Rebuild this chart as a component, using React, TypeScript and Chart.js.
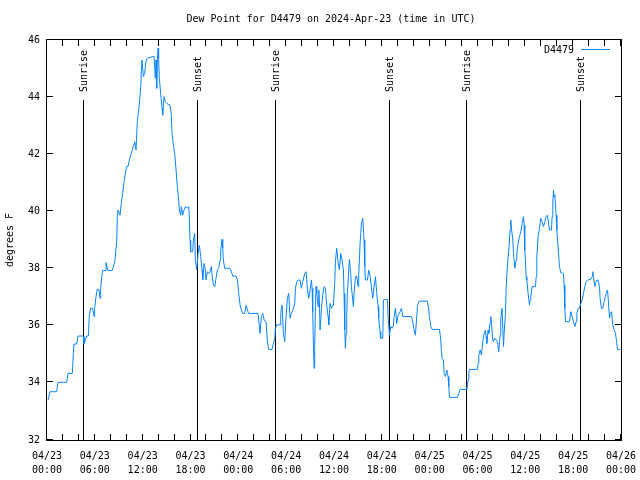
import React, { useEffect, useRef } from 'react';
import { Chart, registerables } from 'chart.js';

Chart.register(...registerables);

const TITLE = 'Dew Point for D4479 on 2024-Apr-23 (time in UTC)';
const SERIES_LABEL = 'D4479';
const Y_AXIS_TITLE = 'degrees F';
const LINE_COLOR = '#0a84ff';
const FONT = "'DejaVu Sans Mono', monospace";

// hours since 2024-04-23 00:00 UTC
const hoursSinceStart = [
  0.13, 0.38, 1.21, 1.38, 2.47, 2.63, 3.18, 3.30, 3.39, 3.72, 3.89, 4.56, 4.64, 4.98, 5.19, 5.31, 5.48, 5.73, 5.90, 5.98,
  6.15, 6.30, 6.52, 6.65, 6.73, 6.82, 6.98, 7.28, 7.40, 7.65, 8.20, 8.49, 8.57, 8.74, 8.82, 8.91, 9.16, 9.33, 9.49, 9.66,
  9.79, 10.0, 10.16, 10.33, 10.58, 10.75, 10.92, 11.0, 11.17, 11.33, 11.50, 11.63, 11.75, 11.84,
  11.92, 12.09, 12.25, 12.34, 12.46, 12.59, 13.26, 13.43, 13.59, 13.68, 13.76, 13.84, 13.93, 14.0, 14.09, 14.26, 14.43, 14.51,
  14.68, 14.85, 15.01, 15.43, 15.60, 15.68, 15.85, 16.02, 16.19, 16.35, 16.52, 16.60, 16.77, 16.85, 17.02, 17.19, 17.36, 17.61,
  17.78, 17.86, 17.94, 18.02, 18.28, 18.36, 18.53, 18.61, 18.78, 18.95, 19.11, 19.28, 19.45, 19.53, 19.70, 19.87, 19.95, 20.12,
  20.28, 20.45, 20.62, 20.70, 20.87, 21.04, 21.20, 21.37, 21.54, 21.71, 21.79, 21.96, 22.04, 22.12, 22.29, 22.96, 23.13, 23.30, 23.71,
  23.88, 24.05, 24.22, 24.38, 24.55, 24.80, 24.97, 25.14, 25.30, 26.47, 26.64, 26.72, 26.89, 27.06, 27.23, 27.48, 27.65, 27.81,
  28.23, 28.40, 28.57, 28.65, 28.82, 29.23, 29.32, 29.49, 29.65, 29.82, 29.99, 30.15, 30.32, 30.49, 30.66, 30.82, 31.08, 31.16,
  31.33, 31.49, 31.74, 31.91, 32.08, 32.33, 32.50, 32.66, 32.83, 33.0, 33.17, 33.25, 33.33, 33.42, 33.50, 33.58, 33.67, 33.75,
  33.84, 34.0, 34.09, 34.17, 34.25, 34.42, 34.59, 34.76, 34.92, 35.09, 35.26, 35.34, 35.51, 35.68, 35.84,
  35.93, 36.09, 36.18, 36.34, 36.51, 36.68, 36.85, 37.01, 37.18, 37.26, 37.35, 37.43, 37.52, 37.60, 37.68, 37.85, 37.93, 38.10,
  38.18, 38.35, 38.43, 38.52, 38.69, 38.85, 39.02, 39.10, 39.27, 39.44, 39.61, 39.77, 39.86, 39.94, 40.19, 40.36, 40.53, 40.69,
  40.86, 41.03, 41.20, 41.36, 41.53, 41.61, 41.78, 41.86, 42.12, 42.20, 42.45, 42.70, 42.79, 42.95, 43.12, 43.29, 43.45, 43.54,
  43.71, 43.87, 44.04, 44.29, 44.46, 44.63, 45.71, 45.88, 46.05, 46.21, 46.38, 46.46, 46.63, 46.80, 47.72, 47.89,
  47.97, 48.14, 48.31, 49.23, 49.39, 49.48, 49.56, 49.73, 49.81, 49.98, 50.15, 50.23, 50.31, 50.40, 50.48, 51.48, 51.65, 51.82,
  52.66, 52.82, 52.91, 52.99, 53.99, 54.08, 54.16, 54.33, 54.50, 54.66, 54.83, 55.0, 55.08, 55.17, 55.33, 55.42, 55.58, 55.67,
  55.75, 55.92, 56.0, 56.17, 56.34, 56.50, 56.67, 56.76, 56.84, 56.92, 57.09, 57.26, 57.34, 57.51, 57.60, 57.76, 57.93, 58.01,
  58.09, 58.18, 58.26, 58.43, 58.51, 58.68, 58.85, 58.93, 59.10, 59.26, 59.43, 59.60, 59.77, 59.85, 59.93, 60.02, 60.10,
  60.18, 60.35, 60.52, 60.60, 60.69, 60.85, 61.27, 61.36, 61.44, 61.61, 61.77, 61.94, 62.11, 62.28, 62.44, 62.61, 62.78, 62.86,
  63.03, 63.28, 63.36, 63.45, 63.53, 63.61, 63.70, 63.86, 63.95, 64.03, 64.20, 64.28, 64.45, 64.78, 64.87, 64.95, 65.04, 65.54,
  65.71, 65.87, 66.04, 66.21, 66.37, 66.46, 66.63, 66.79, 66.96, 67.13, 67.29, 67.46, 67.63, 67.80, 68.21, 68.38, 68.46, 68.55,
  68.72, 68.80, 68.97, 69.13, 69.30, 69.38, 69.55, 69.72, 69.89, 70.05, 70.14, 70.31, 70.39, 70.56, 70.64, 70.81, 70.97, 71.14,
  71.31, 71.48, 71.56, 71.90,
];

const dewPointF = [
  33.40, 33.69, 33.69, 34.02, 34.02, 34.33, 34.33, 35.03, 35.36, 35.36, 35.64, 35.64, 35.36, 35.64, 35.64, 36.37, 36.61, 36.61, 36.32, 36.61,
  37.02, 37.27, 37.27, 36.96, 37.27, 37.60, 37.93, 37.93, 38.21, 37.93, 37.93, 38.24, 38.44, 38.94, 39.82, 40.05, 39.87, 40.31, 40.63, 41.01,
  41.27, 41.57, 41.57, 41.80, 42.03, 42.21, 42.36, 42.44, 42.15, 43.14, 43.55, 43.90, 44.37, 44.95,
  45.30, 44.72, 44.83, 45.07, 45.30, 45.36, 45.42, 45.42, 44.66, 45.30, 44.31, 45.30, 45.71, 45.36, 44.66, 44.13, 43.61, 43.37,
  44.02, 43.84, 43.78, 43.72, 43.37, 42.73, 42.32, 42.03, 41.45, 40.87, 40.40, 40.05, 39.87, 40.17, 39.87, 40.05, 40.17, 40.11,
  40.17, 39.76, 39.00, 38.59, 38.59, 39.00, 39.23, 38.30, 37.95, 38.53, 38.82, 38.42, 37.95, 37.60, 38.18, 37.95, 37.60, 37.89,
  37.83, 37.89, 38.07, 37.77, 37.42, 37.37, 37.66, 37.95, 38.01, 38.30, 38.65, 39.02, 38.71, 38.30, 38.01, 38.01, 37.89, 37.74, 37.74,
  37.60, 37.13, 36.72, 36.55, 36.43, 36.43, 36.72, 36.55, 36.43, 36.43, 35.97, 35.73, 36.32, 36.43, 36.20, 36.14, 35.44, 35.17,
  35.17, 35.38, 35.56, 35.91, 36.03, 36.03, 36.43, 36.72, 35.73, 35.44, 36.32, 36.96, 37.13, 36.26, 36.43, 36.53, 36.78, 37.31,
  37.54, 37.60, 37.60, 37.31, 37.54, 37.83, 37.89, 37.31, 36.96, 37.25, 37.60, 37.31, 36.49, 35.32, 34.51, 35.27, 36.67, 37.37,
  37.13, 36.67, 37.25, 36.84, 35.85, 36.55, 37.08, 37.37, 37.31, 36.72, 36.32, 36.03, 36.78, 36.61, 36.72,
  36.72, 37.48, 38.24, 38.71, 38.24, 37.95, 38.53, 38.30, 37.95, 37.13, 35.85, 35.21, 35.73, 36.43, 37.13, 37.95, 38.32, 37.83,
  37.37, 36.90, 36.67, 37.13, 37.72, 37.74, 37.37, 37.77, 38.88, 39.58, 39.76, 39.00, 38.07, 37.60, 37.60, 37.95, 37.72, 37.37,
  36.96, 37.37, 37.72, 37.13, 36.67, 36.26, 35.79, 35.56, 35.56, 36.90, 36.92, 36.92, 36.32, 35.67, 35.97, 35.91, 35.99, 36.32,
  36.61, 36.08, 36.37, 36.49, 36.61, 36.32, 36.32, 36.14, 35.85, 35.67, 36.32, 36.67, 36.84, 36.86, 36.86, 36.55,
  36.32, 35.97, 35.87, 35.87, 35.50, 35.09, 34.86, 34.80, 34.33, 34.22, 34.45, 34.33, 34.22, 33.87, 33.49, 33.49, 33.63, 33.77,
  33.77, 34.10, 34.33, 34.47, 34.47, 34.68, 34.97, 35.15, 34.97, 35.44, 35.73, 35.85, 35.62, 35.38, 35.85, 35.73, 36.11, 36.32,
  36.08, 35.50, 35.44, 35.56, 35.50, 35.44, 35.09, 35.44, 35.67, 36.26, 36.61, 35.27, 35.73, 36.43, 37.37, 38.13, 38.65, 39.00,
  39.35, 39.70, 39.41, 39.00, 38.53, 38.01, 38.30, 38.53, 38.88, 39.12, 39.29, 39.58, 39.82, 39.52, 38.65, 38.24, 37.72,
  37.60, 37.13, 36.72, 36.90, 37.02, 37.37, 37.37, 37.72, 38.42, 39.12, 39.41, 39.76, 39.64, 39.47, 39.64, 39.82, 39.87, 39.70,
  39.35, 39.35, 39.82, 40.34, 40.75, 40.52, 40.58, 39.87, 39.35, 39.00, 38.42, 38.07, 37.86, 37.83, 37.42, 36.61, 36.14, 36.14,
  36.49, 36.32, 36.14, 35.97, 36.14, 36.43, 36.61, 36.61, 36.78, 36.90, 37.13, 37.37, 37.54, 37.60, 37.62, 37.72, 37.89, 37.72,
  37.37, 37.48, 37.60, 37.60, 37.37, 36.96, 36.61, 36.61, 36.84, 37.02, 37.13, 37.25, 36.96, 36.26, 36.43, 36.49, 36.03, 35.87,
  35.73, 35.38, 35.17, 35.17,
];

const sunEventHours = [4.68, 18.99, 28.69, 43.08, 52.66, 67.04];
const sunEventLabels = ['Sunrise', 'Sunset', 'Sunrise', 'Sunset', 'Sunrise', 'Sunset'];

const xTickHours = [0, 6, 12, 18, 24, 30, 36, 42, 48, 54, 60, 66, 72];
const xTickDates = ['04/23', '04/23', '04/23', '04/23', '04/24', '04/24', '04/24', '04/24', '04/25', '04/25', '04/25', '04/25', '04/26'];
const xTickTimes = ['00:00', '06:00', '12:00', '18:00', '00:00', '06:00', '12:00', '18:00', '00:00', '06:00', '12:00', '18:00', '00:00'];
const xMinorTickStep = 2;
const yTicks = [32, 34, 36, 38, 40, 42, 44, 46];

const decorPlugin = {
  id: 'gnuplotDecor',
  beforeDatasetsDraw(chart: any) {
    const { ctx, chartArea, scales } = chart;
    const { top, bottom } = chartArea;
    const h = bottom - top;
    ctx.save();
    ctx.strokeStyle = '#000';
    ctx.lineWidth = 1;
    ctx.fillStyle = '#000';
    ctx.font = `10px ${FONT}`;
    sunEventHours.forEach((hr, i) => {
      const x = Math.round(scales.x.getPixelForValue(hr)) - 0.5;
      ctx.beginPath();
      ctx.moveTo(x, top + 0.15 * h);
      ctx.lineTo(x, bottom);
      ctx.stroke();
      ctx.save();
      ctx.translate(x + 1, top + 0.13 * h);
      ctx.rotate(-Math.PI / 2);
      ctx.textAlign = 'left';
      ctx.textBaseline = 'middle';
      ctx.fillText(sunEventLabels[i], 0, 0);
      ctx.restore();
    });
    ctx.restore();
  },
  afterDraw(chart: any) {
    const { ctx, chartArea, scales } = chart;
    const { top, bottom, left, right } = chartArea;
    ctx.save();
    ctx.strokeStyle = '#000';
    ctx.lineWidth = 1;
    ctx.strokeRect(left - 0.5, top - 0.5, right - left + 1, bottom - top + 1);
    const tl = 6;
    ctx.beginPath();
    yTicks.forEach((v) => {
      const y = Math.floor(scales.y.getPixelForValue(v)) - 0.5;
      ctx.moveTo(left, y); ctx.lineTo(left + tl, y);
      ctx.moveTo(right, y); ctx.lineTo(right - tl, y);
    });
    for (let hr = scales.x.min; hr <= scales.x.max; hr += xMinorTickStep) {
      const x = Math.round(scales.x.getPixelForValue(hr)) - 0.5;
      ctx.moveTo(x, bottom); ctx.lineTo(x, bottom - tl);
      ctx.moveTo(x, top); ctx.lineTo(x, top + tl);
    }
    ctx.stroke();
    ctx.fillStyle = '#000';
    ctx.font = `10px ${FONT}`;
    ctx.textAlign = 'center';
    ctx.textBaseline = 'middle';
    ctx.fillText(TITLE, (left + right) / 2 - 3, 19);
    const ds = chart.data.datasets[0];
    ctx.textAlign = 'right';
    ctx.fillText(ds.label, right - 47, top + 10);
    ctx.strokeStyle = ds.borderColor;
    ctx.beginPath();
    ctx.moveTo(right - 40, top + 9.5);
    ctx.lineTo(right - 11, top + 9.5);
    ctx.stroke();
    ctx.restore();
  },
};

export default function App() {
  const ref = useRef<HTMLCanvasElement | null>(null);
  useEffect(() => {
    if (!ref.current) return;
    const points = hoursSinceStart.map((h, i) => ({ x: h, y: dewPointF[i] }));
    const chart = new Chart(ref.current, {
      type: 'line',
      data: {
        datasets: [
          {
            label: SERIES_LABEL,
            data: points,
            borderColor: LINE_COLOR,
            borderWidth: 1,
            pointRadius: 0,
            tension: 0,
            fill: false,
          },
        ],
      },
      options: {
        animation: false,
        responsive: false,
        maintainAspectRatio: false,
        layout: { padding: { top: 40, right: 19, left: 0, bottom: 0 } },
        plugins: { legend: { display: false }, title: { display: false }, tooltip: { enabled: false } },
        scales: {
          x: {
            type: 'linear',
            min: 0,
            max: 72,
            grid: { display: false, drawTicks: false },
            border: { display: false },
            afterFit: (s: any) => { s.height = 40; s.paddingLeft = 0; s.paddingRight = 0; },
            afterBuildTicks: (s: any) => { s.ticks = xTickHours.map((v) => ({ value: v })); },
            ticks: {
              autoSkip: false,
              maxRotation: 0,
              minRotation: 0,
              padding: 9,
              color: '#000',
              font: { family: FONT, size: 10, lineHeight: 1.4 },
              callback: (v: any) => {
                const i = xTickHours.indexOf(Number(v));
                return i >= 0 ? [xTickDates[i], xTickTimes[i]] : '';
              },
            },
          },
          y: {
            type: 'linear',
            min: 32,
            max: 46,
            grid: { display: false, drawTicks: false },
            border: { display: false },
            afterFit: (s: any) => { s.width = 47; s.paddingTop = 0; s.paddingBottom = 0; },
            afterBuildTicks: (s: any) => { s.ticks = yTicks.map((v) => ({ value: v })); },
            ticks: {
              padding: 7,
              color: '#000',
              font: { family: FONT, size: 10 },
            },
            title: {
              display: true,
              text: Y_AXIS_TITLE,
              color: '#000',
              font: { family: FONT, size: 10 },
              padding: { top: 4, bottom: 0 },
            },
          },
        },
      },
      plugins: [decorPlugin],
    });
    return () => chart.destroy();
  }, []);
  return (
    <div style={{ position: 'absolute', left: 0, top: 0, width: 640, height: 480, background: '#fff' }}>
      <canvas ref={ref} width={640} height={480} style={{ width: 640, height: 480 }} />
    </div>
  );
}
